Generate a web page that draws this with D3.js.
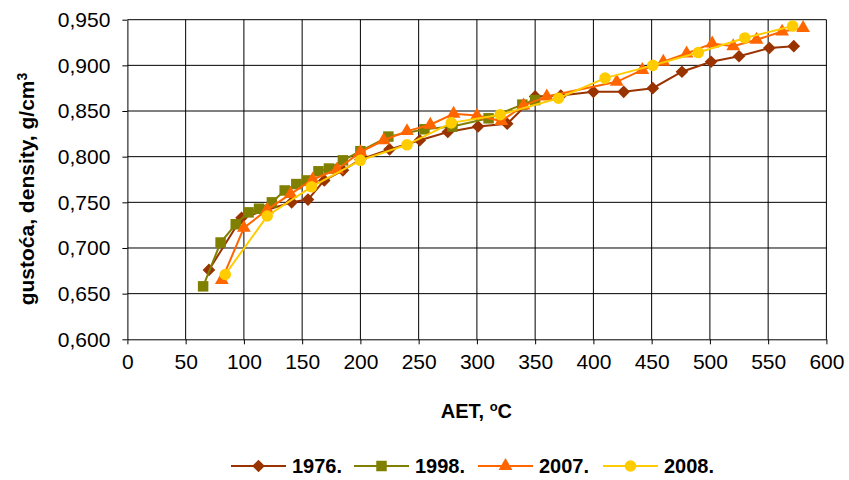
<!DOCTYPE html>
<html>
<head>
<meta charset="utf-8">
<script src="https://cdn.jsdelivr.net/npm/d3@7"></script>
<style>
  body { margin: 0; background: #fff; }
  svg { display: block; font-family: "Liberation Sans", Arial, sans-serif; }
</style>
</head>
<body>
<svg></svg>
<script>
var width = 849;
var height = 480;

// data: AET (oC) and density (g/cm3) for each sample year
var years = ["1976.", "1998.", "2007.", "2008."];
var colors = ["#993300", "#808000", "#FF6600", "#FFCC00"];

var aet1976 = [70, 98, 141, 155, 169, 185, 200, 225, 251, 275, 301, 326, 350, 372, 400, 426, 451, 476, 501, 525, 551, 572];
var dens1976 = [0.676, 0.733, 0.750, 0.753, 0.774, 0.785, 0.797, 0.808, 0.818, 0.827, 0.833, 0.836, 0.866, 0.867, 0.871, 0.871, 0.875, 0.893, 0.904, 0.910, 0.919, 0.921];

var aet1998 = [65, 80, 93, 104, 113, 124, 135, 145, 154, 164, 173, 185, 200, 224, 255, 279, 310, 339, 350];
var dens1998 = [0.658, 0.706, 0.726, 0.739, 0.743, 0.750, 0.763, 0.770, 0.774, 0.784, 0.787, 0.796, 0.806, 0.822, 0.830, 0.833, 0.842, 0.857, 0.862];

var aet2007 = [81, 100, 120, 140, 159, 180, 200, 220, 240, 260, 280, 300, 321, 340, 360, 420, 442, 460, 480, 502, 520, 540, 562, 580];
var dens2007 = [0.665, 0.722, 0.742, 0.759, 0.775, 0.786, 0.805, 0.818, 0.828, 0.835, 0.847, 0.845, 0.839, 0.856, 0.866, 0.882, 0.895, 0.904, 0.913, 0.924, 0.921, 0.928, 0.937, 0.941];

var aet2008 = [84, 120, 158, 200, 240, 278, 320, 370, 410, 451, 490, 530, 571];
var dens2008 = [0.671, 0.735, 0.767, 0.796, 0.813, 0.837, 0.846, 0.864, 0.886, 0.900, 0.914, 0.930, 0.943];

var xTicks = [0, 50, 100, 150, 200, 250, 300, 350, 400, 450, 500, 550, 600];
var yTicks = [0.600, 0.650, 0.700, 0.750, 0.800, 0.850, 0.900, 0.950];

var seriesX = [aet1976, aet1998, aet2007, aet2008];
var seriesY = [dens1976, dens1998, dens2007, dens2008];
var symbols = ["diamond", "square", "triangle", "circle"];

// plot area (note: "top" is taken by window.top, so use plot* names)
var plotLeft = 127.4, plotRight = 826.4, plotTop = 19.7, plotBottom = 339.3;

var xScale = d3.scaleLinear().domain([0, 600]).range([plotLeft, plotRight]);
var yScale = d3.scaleLinear().domain([0.6, 0.95]).range([plotBottom, plotTop]);

var comma = d3.formatLocale({decimal: ",", thousands: ".", grouping: [3], currency: ["", ""]}).format(".3f");

var svg = d3.select("svg")
  .attr("width", width)
  .attr("height", height);

// gridlines
svg.append("g")
  .selectAll("line")
  .data(xTicks.slice(1))
  .enter()
  .append("line")
    .attr("x1", d => xScale(d)).attr("x2", d => xScale(d))
    .attr("y1", plotTop).attr("y2", plotBottom)
    .attr("stroke", "#000").attr("stroke-width", 1);

svg.append("g")
  .selectAll("line")
  .data(yTicks.slice(1))
  .enter()
  .append("line")
    .attr("x1", plotLeft).attr("x2", plotRight)
    .attr("y1", d => yScale(d)).attr("y2", d => yScale(d))
    .attr("stroke", "#000").attr("stroke-width", 1);

// axes
svg.append("g")
  .attr("transform", "translate(0," + plotBottom + ")")
  .call(d3.axisBottom(xScale).tickValues(xTicks).tickSize(5).tickPadding(10).tickSizeOuter(0));

svg.append("g")
  .attr("transform", "translate(" + plotLeft + ",0)")
  .call(d3.axisLeft(yScale).tickValues(yTicks).tickFormat(comma).tickSize(5).tickPadding(12).tickSizeOuter(0));

svg.selectAll(".domain").attr("stroke", "#000");
svg.selectAll(".tick line").attr("stroke", "#000");
svg.selectAll(".tick text")
  .attr("font-family", "Liberation Sans, Arial, sans-serif")
  .attr("font-size", 21)
  .attr("fill", "#000");

// marker shapes
function marker(sel, kind, color) {
  var p;
  if (kind === "diamond") {
    p = sel.append("path")
      .attr("d", d3.symbol().type(d3.symbolSquare).size(80)())
      .attr("transform", "rotate(45)");
  }
  if (kind === "square") p = sel.append("path").attr("d", d3.symbol().type(d3.symbolSquare).size(110)());
  if (kind === "triangle") p = sel.append("path").attr("d", d3.symbol().type(d3.symbolTriangle).size(82)());
  if (kind === "circle") p = sel.append("path").attr("d", d3.symbol().type(d3.symbolCircle).size(105)());
  p.attr("fill", color);
}

var line = d3.line()
  .x(d => xScale(d[0]))
  .y(d => yScale(d[1]));

// one group per series: line then markers
seriesX.forEach(function (xs, i) {
  var pts = xs.map((x, j) => [x, seriesY[i][j]]);
  var g = svg.append("g");
  g.append("path")
    .datum(pts)
    .attr("d", line)
    .attr("fill", "none")
    .attr("stroke", colors[i])
    .attr("stroke-width", 2);
  g.selectAll(".pt")
    .data(pts)
    .enter()
    .append("g")
      .attr("class", "pt")
      .attr("transform", d => "translate(" + xScale(d[0]) + "," + yScale(d[1]) + ")")
      .each(function () { marker(d3.select(this), symbols[i], colors[i]); });
});

// axis titles
svg.append("text")
  .attr("x", (plotLeft + plotRight) / 2 - 0.5)
  .attr("y", 418)
  .attr("font-size", 20)
  .attr("font-weight", "bold")
  .style("text-anchor", "middle")
  .text("AET, ")
  .call(t => t.append("tspan").attr("font-size", 13).attr("dy", -7).text("o"))
  .call(t => t.append("tspan").attr("dy", 7).text("C"));

svg.append("text")
  .attr("transform", "translate(34,189) rotate(-90)")
  .attr("font-size", 21)
  .attr("font-weight", "bold")
  .style("text-anchor", "middle")
  .text("gustoća, density, g/cm")
  .call(t => t.append("tspan").attr("font-size", 14).attr("dy", -7).text("3"));

// legend
var legendX = [231, 354, 478, 603];
var legend = svg.append("g")
  .selectAll("g")
  .data(years)
  .enter()
  .append("g")
    .attr("transform", (d, i) => "translate(" + legendX[i] + ",466)");

legend.append("line")
  .attr("x1", 0).attr("x2", 55)
  .attr("stroke", (d, i) => colors[i])
  .attr("stroke-width", 2);

legend.append("g")
  .attr("transform", "translate(27.5,0)")
  .each(function (d, i) { marker(d3.select(this), symbols[i], colors[i]); });

legend.append("text")
  .attr("x", 61)
  .attr("y", 7)
  .attr("font-size", 20)
  .attr("font-weight", "bold")
  .text(d => d);
</script>
</body>
</html>
